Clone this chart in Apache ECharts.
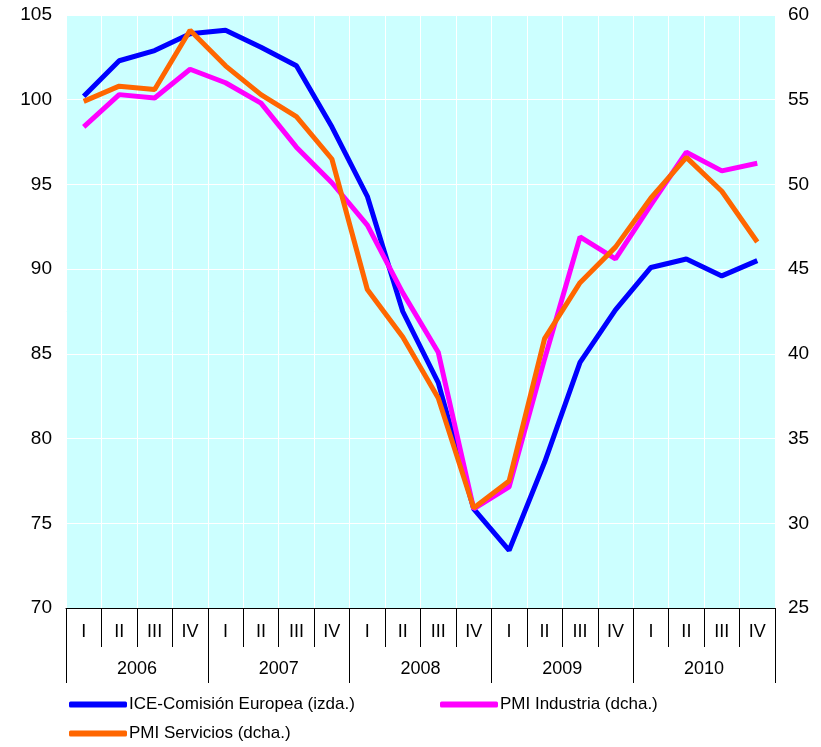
<!DOCTYPE html>
<html>
<head>
<meta charset="utf-8">
<script src="https://cdn.jsdelivr.net/npm/echarts@6/dist/echarts.min.js"></script>
<style>
    html, body { margin: 0; padding: 0; background: #fff; }
    #main { width: 821px; height: 747px; }
</style>
</head>
<body>
<div id="main"></div>
<script>
    var quarters = ['I', 'II', 'III', 'IV', 'I', 'II', 'III', 'IV', 'I', 'II', 'III', 'IV',
                    'I', 'II', 'III', 'IV', 'I', 'II', 'III', 'IV'];
    var years = ['2006', '2007', '2008', '2009', '2010'];

    // ICE (eje izquierdo)
    var ice = [100.2, 102.3, 102.9, 103.9, 104.1, 103.1, 102.0, 98.4, 94.3, 87.5,
               83.3, 75.85, 73.4, 78.6, 84.5, 87.6, 90.1, 90.6, 89.6, 90.5];
    // PMI (eje derecho)
    var pmiInd = [53.4, 55.3, 55.1, 56.8, 56.0, 54.8, 52.2, 50.1, 47.6, 43.6,
                  40.1, 30.85, 32.15, 39.7, 46.9, 45.6, 48.8, 51.9, 50.8, 51.25];
    var pmiServ = [54.9, 55.8, 55.6, 59.1, 57.0, 55.3, 54.0, 51.5, 43.8, 41.0,
                   37.4, 30.9, 32.5, 40.9, 44.2, 46.3, 49.2, 51.6, 49.6, 46.6];

    var font = 'Liberation Sans, Arial, sans-serif';
    var myChart = echarts.init(document.getElementById('main'));

    function legendAt(left, top, name) {
        return {
            left: left, top: top, padding: 0,
            itemWidth: 58, itemHeight: 6, icon: 'roundRect', itemGap: 2,
            textStyle: {color: '#000', fontSize: 17, fontFamily: font, padding: [5, 0, 0, -3]},
            data: [name]
        };
    }

    var option = {
        animation: false,
        textStyle: {fontFamily: font},
        grid: {
            left: 66, right: 46, top: 15, bottom: 139,
            show: true, backgroundColor: '#CCFFFF', borderWidth: 0
        },
        legend: [
            legendAt(69, 696, 'ICE-Comisión Europea (izda.)'),
            legendAt(440, 696, 'PMI Industria (dcha.)'),
            legendAt(69, 725, 'PMI Servicios (dcha.)')
        ],
        xAxis: [
            {
                type: 'category', position: 'bottom', data: quarters,
                boundaryGap: true,
                axisLine: {onZero: false, lineStyle: {color: '#000', width: 1}},
                axisTick: {show: true, length: 39, lineStyle: {color: '#000'}},
                axisLabel: {color: '#000', fontSize: 18, margin: 15, interval: 0},
                splitLine: {show: true, interval: 0, lineStyle: {color: '#fff', width: 1}}
            },
            {
                type: 'category', position: 'bottom', data: years,
                boundaryGap: true,
                axisLine: {show: false, onZero: false},
                axisTick: {show: true, length: 75, lineStyle: {color: '#000'}},
                axisLabel: {color: '#000', fontSize: 18, margin: 52, interval: 0},
                splitLine: {show: false}
            }
        ],
        yAxis: [
            {
                type: 'value', min: 70, max: 105, interval: 5,
                axisLine: {show: false}, axisTick: {show: false},
                axisLabel: {color: '#000', fontSize: 19, margin: 14},
                splitLine: {show: true, lineStyle: {color: '#fff', width: 1}}
            },
            {
                type: 'value', min: 25, max: 60, interval: 5,
                axisLine: {show: false}, axisTick: {show: false},
                axisLabel: {color: '#000', fontSize: 19, margin: 13},
                splitLine: {show: false}
            }
        ],
        series: [
            {
                name: 'ICE-Comisión Europea (izda.)', type: 'line', yAxisIndex: 0,
                data: ice, symbol: 'none', color: '#0000FF',
                lineStyle: {width: 5, color: '#0000FF'}
            },
            {
                name: 'PMI Industria (dcha.)', type: 'line', yAxisIndex: 1,
                data: pmiInd, symbol: 'none', color: '#FF00FF',
                lineStyle: {width: 5, color: '#FF00FF'}
            },
            {
                name: 'PMI Servicios (dcha.)', type: 'line', yAxisIndex: 1,
                data: pmiServ, symbol: 'none', color: '#FF6600',
                lineStyle: {width: 5, color: '#FF6600'}
            }
        ]
    };
    myChart.setOption(option);
</script>
</body>
</html>
